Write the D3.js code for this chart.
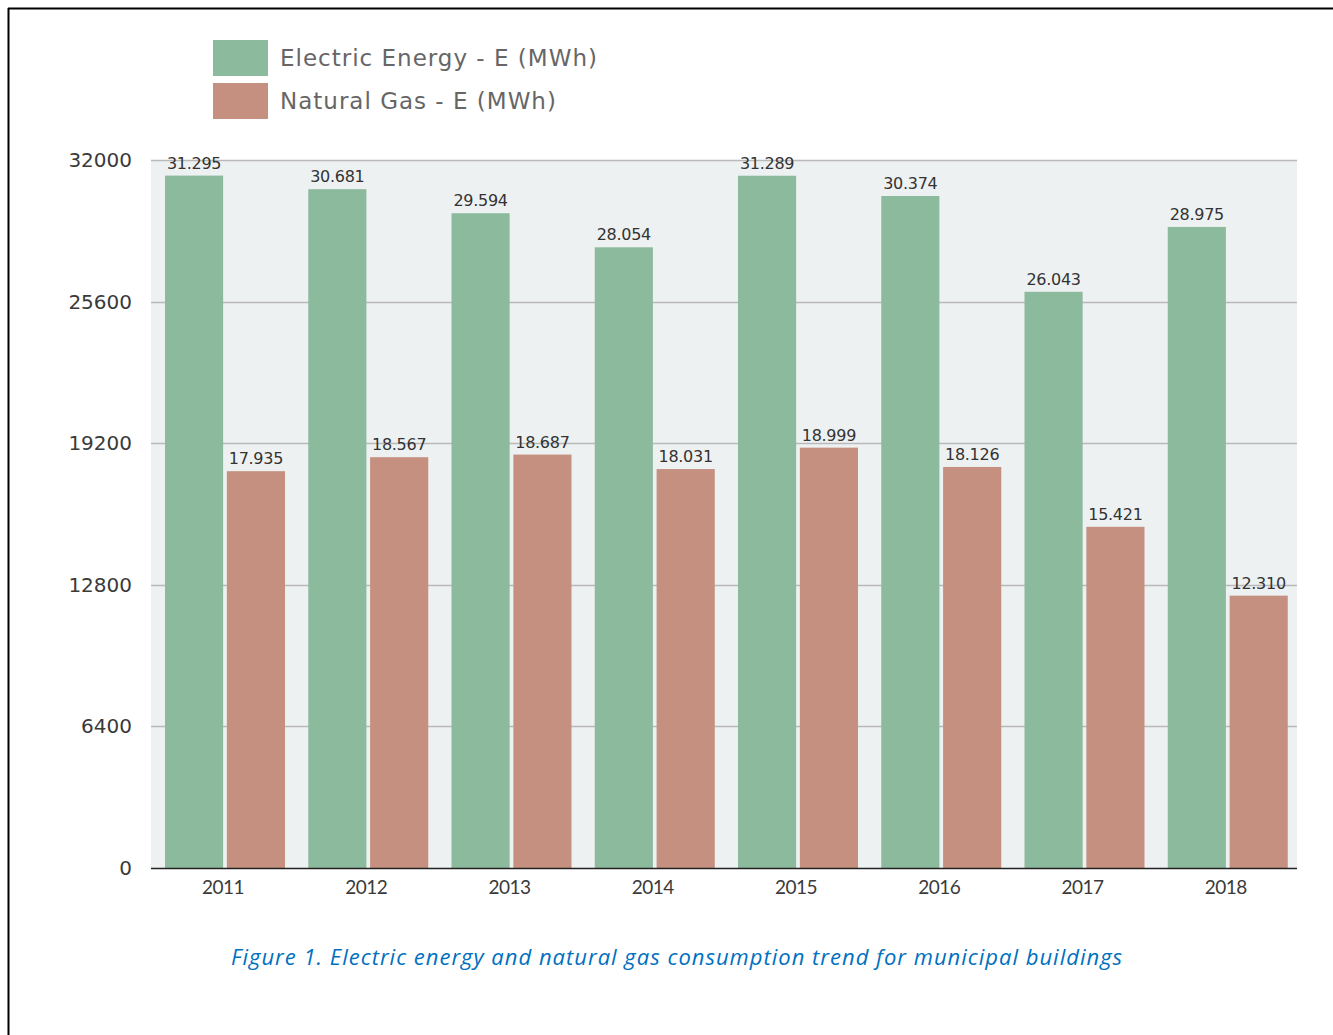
<!DOCTYPE html>
<html>
<head>
<meta charset="utf-8">
<script src="https://cdn.jsdelivr.net/npm/d3@7"></script>
<style>
  html, body { margin: 0; padding: 0; background: #fff; }
  svg { display: block; }
</style>
</head>
<body>
<svg id="chart" width="1333" height="1035"></svg>
<script>
// Consumption per year, MWh
const years = ["2011", "2012", "2013", "2014", "2015", "2016", "2017", "2018"];
const electricEnergy = [31295, 30681, 29594, 28054, 31289, 30374, 26043, 28975];
const naturalGas = [17935, 18567, 18687, 18031, 18999, 18126, 15421, 12310];
const seriesNames = ["Electric Energy - E (MWh)", "Natural Gas - E (MWh)"];
const yTicks = [0, 6400, 12800, 19200, 25600, 32000];
const caption = "Figure 1. Electric energy and natural gas consumption trend for municipal buildings";

const colors = ["#8cba9c", "#c59080"];
const svg = d3.select("#chart");

// page frame
svg.append("line").attr("x1", 8).attr("x2", 1333).attr("y1", 8.5).attr("y2", 8.5)
  .attr("stroke", "#000").attr("stroke-width", 2);
svg.append("line").attr("x1", 8.5).attr("x2", 8.5).attr("y1", 8).attr("y2", 1035)
  .attr("stroke", "#000").attr("stroke-width", 2);

const plot = { left: 151, right: 1297, top: 160, bottom: 868 };

const y = d3.scaleLinear().domain([0, 32000]).range([plot.bottom, plot.top]);
const x0 = d3.scaleBand().domain(years).range([plot.left, plot.right]).padding(0);
const x1 = d3.scaleBand().domain([0, 1]).range([14, 134]).paddingInner(0.06).paddingOuter(0);

// plot background
svg.append("rect")
  .attr("x", plot.left).attr("y", plot.top)
  .attr("width", plot.right - plot.left).attr("height", plot.bottom - plot.top)
  .attr("fill", "#eef1f2");

// gridlines
svg.append("g").selectAll("line").data(yTicks.filter(d => d > 0)).join("line")
  .attr("x1", plot.left).attr("x2", plot.right)
  .attr("y1", d => Math.round(y(d)) + 0.5).attr("y2", d => Math.round(y(d)) + 0.5)
  .attr("stroke", "#b9b9b9").attr("stroke-width", 1.3);

// y tick labels
svg.append("g").selectAll("text").data(yTicks).join("text")
  .attr("x", 132).attr("y", d => y(d)).attr("dy", "0.35em")
  .attr("text-anchor", "end")
  .attr("font-family", "'DejaVu Sans', sans-serif").attr("font-size", 20)
  .attr("fill", "#3a3a3a")
  .text(d => d);

const fmt = v => d3.formatLocale({ decimal: ",", thousands: ".", grouping: [3], currency: ["", ""] }).format(",")(v);

const rows = years.map((yr, i) => ({ year: yr, values: [electricEnergy[i], naturalGas[i]] }));

const groups = svg.append("g").selectAll("g").data(rows).join("g")
  .attr("transform", d => `translate(${x0(d.year)},0)`);

groups.selectAll("rect").data(d => d.values.map((v, k) => ({ k, v }))).join("rect")
  .attr("x", d => x1(d.k)).attr("width", x1.bandwidth())
  .attr("y", d => y(d.v)).attr("height", d => y(0) - y(d.v))
  .attr("fill", d => colors[d.k]);

groups.selectAll("text.val").data(d => d.values.map((v, k) => ({ k, v }))).join("text")
  .attr("class", "val")
  .attr("x", d => x1(d.k) + x1.bandwidth() / 2)
  .attr("y", d => y(d.v) - 7)
  .attr("text-anchor", "middle")
  .attr("font-family", "'DejaVu Sans', sans-serif").attr("font-size", 16)
  .attr("letter-spacing", -0.3)
  .attr("fill", "#333")
  .text(d => fmt(d.v));

// x axis baseline
svg.append("line").attr("x1", plot.left).attr("x2", plot.right)
  .attr("y1", plot.bottom + 0.5).attr("y2", plot.bottom + 0.5)
  .attr("stroke", "#222").attr("stroke-width", 1.6);

// x labels
svg.append("g").selectAll("text").data(years).join("text")
  .attr("x", d => x0(d) + 72).attr("y", 894)
  .attr("text-anchor", "middle")
  .attr("font-family", "Lato, sans-serif").attr("font-size", 19)
  .attr("letter-spacing", -0.5)
  .attr("fill", "#3a3a3a")
  .text(d => d);

// legend
const legend = svg.append("g").selectAll("g").data(seriesNames).join("g")
  .attr("transform", (d, i) => `translate(213,${40 + i * 43})`);
legend.append("rect").attr("width", 55).attr("height", 36).attr("fill", (d, i) => colors[i]);
legend.append("text").attr("x", 67).attr("y", 18).attr("dy", "0.35em")
  .attr("font-family", "'DejaVu Sans', sans-serif").attr("font-size", 23)
  .attr("letter-spacing", 1)
  .attr("fill", "#666")
  .text(d => d);

// caption
svg.append("text").attr("x", 677).attr("y", 965)
  .attr("text-anchor", "middle")
  .attr("font-family", "'Open Sans', sans-serif").attr("font-style", "italic")
  .attr("font-size", 22).attr("letter-spacing", 1)
  .attr("fill", "#0070c0")
  .text(caption);
</script>
</body>
</html>
